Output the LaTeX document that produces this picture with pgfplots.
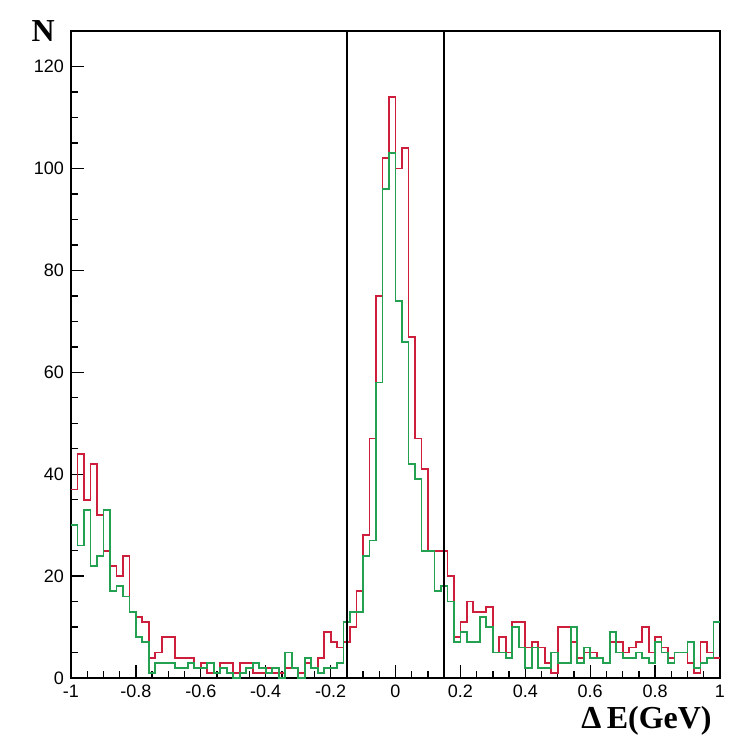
\documentclass[border=0pt]{standalone}
\usepackage{pgfplots}
\pgfplotsset{compat=1.18}
\usepackage{pgfplotstable}
\usepackage{fontspec}
\setmainfont{Liberation Sans}
\newfontfamily\timesfont{Liberation Serif}
\definecolor{hred}{RGB}{205,30,60}
\definecolor{hgreen}{RGB}{35,160,80}

\pgfplotstableread{
x r g
-1.00 37 30
-0.98 44 26
-0.96 35 33
-0.94 42 22
-0.92 32 24
-0.90 25 33
-0.88 22 17
-0.86 20 18
-0.84 24 16
-0.82 13 13
-0.80 12 8
-0.78 11 7
-0.76 4 1
-0.74 5 3
-0.72 8 3
-0.70 8 3
-0.68 4 2
-0.66 4 2
-0.64 4 3
-0.62 2 2
-0.60 3 2
-0.58 1 3
-0.56 1 1
-0.54 3 2
-0.52 3 1
-0.50 1 0
-0.48 3 1
-0.46 3 2
-0.44 1 3
-0.42 1 2
-0.40 2 1
-0.38 1 2
-0.36 1 0
-0.34 2 5
-0.32 2 2
-0.30 1 0
-0.28 3 4
-0.26 2 2
-0.24 4 1
-0.22 9 2
-0.20 7 2
-0.18 6 3
-0.16 7 11
-0.14 10 13
-0.12 17 13
-0.10 28 24
-0.08 47 27
-0.06 75 58
-0.04 102 96
-0.02 114 103
0.00 100 74
0.02 104 66
0.04 67 42
0.06 47 39
0.08 41 25
0.10 25 25
0.12 25 17
0.14 25 18
0.16 20 15
0.18 8 7
0.20 11 9
0.22 15 7
0.24 13 7
0.26 13 12
0.28 14 10
0.30 5 5
0.32 8 5
0.34 5 4
0.36 11 10
0.38 11 6
0.40 6 2
0.42 7 6
0.44 6 2
0.46 3 2
0.48 1 5
0.50 10 3
0.52 10 3
0.54 7 10
0.56 4 3
0.58 5 6
0.60 5 4
0.62 4 4
0.64 3 3
0.66 7 9
0.68 7 5
0.70 5 4
0.72 6 4
0.74 7 5
0.76 10 4
0.78 5 3
0.80 8 7
0.82 6 5
0.84 4 3
0.86 5 5
0.88 5 5
0.90 3 7
0.92 1 2
0.94 7 3
0.96 5 4
0.98 4 11
1.00 4 11
}\hist

\begin{document}
\begin{tikzpicture}
\path[use as bounding box] (-35.5pt,-30.5pt) rectangle (334.5pt,339pt);
\begin{axis}[
  scale only axis,
  width=324.5pt, height=323.5pt,
  xmin=-1, xmax=1, ymin=0, ymax=127,
  axis line style={line width=0.8pt},
  tick align=inside,
  xtick pos=bottom, ytick pos=left,
  xtick={-1,-0.8,-0.6,-0.4,-0.2,0,0.2,0.4,0.6,0.8,1},
  xticklabels={-1,-0.8,-0.6,-0.4,-0.2,0,0.2,0.4,0.6,0.8,1},
  ytick={0,20,40,60,80,100,120},
  minor x tick num=3, minor y tick num=3,
  major tick length=6.5pt, minor tick length=3.5pt,
  tick style={black, line width=0.7pt},
  ticklabel style={font=\fontsize{9}{10}\selectfont},
  /pgf/number format/assume math mode=true,
  clip=false,
]
\addplot[const plot mark left, hred, line width=0.9pt] table[x=x,y=r]{\hist};
\addplot[const plot mark left, hgreen, line width=0.9pt] table[x=x,y=g]{\hist};
\addplot[black, line width=0.8pt] coordinates {(-0.15,0) (-0.15,127)};
\addplot[black, line width=0.8pt] coordinates {(0.15,0) (0.15,127)};
\node[anchor=center, font=\timesfont\bfseries\fontsize{16}{18}\selectfont] at (axis description cs:-0.043,1.0) {N};
\node[anchor=east, font=\timesfont\bfseries\fontsize{16}{18}\selectfont] at (axis description cs:0.998,-0.066) {$\,$Δ\,E(GeV)};
\end{axis}
\end{tikzpicture}
\end{document}
